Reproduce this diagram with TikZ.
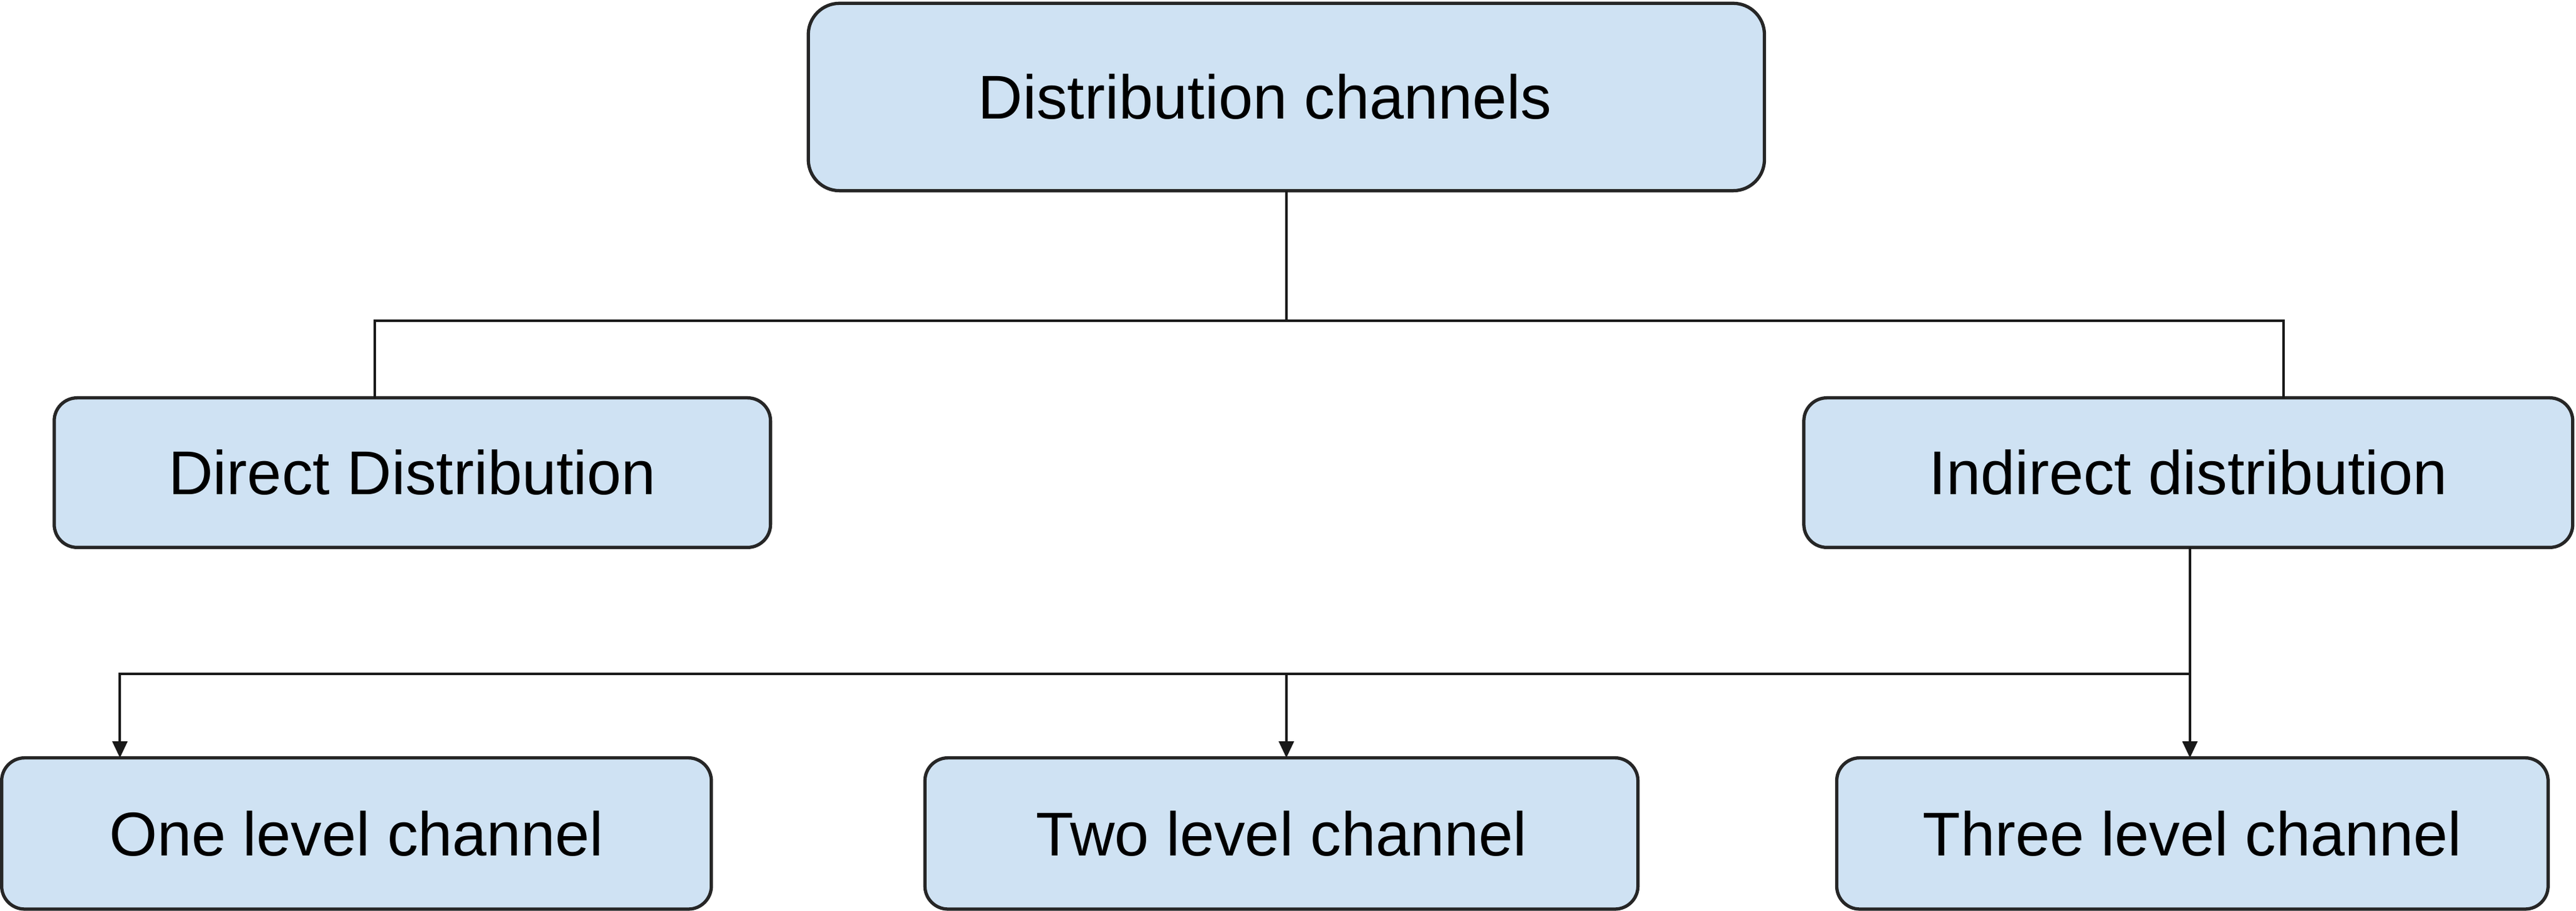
\documentclass[tikz,border=0pt]{standalone}
\usepackage{fontspec}
\setmainfont{Liberation Sans}
\usepackage{xcolor}
\usepackage{tikz}
\usetikzlibrary{positioning,arrows.meta}
\definecolor{boxfill}{HTML}{CFE2F3}

\begin{document}
\begin{tikzpicture}[x=0.5pt,y=-0.5pt,
channel/.style={rectangle,rounded corners=7pt,draw=black!85,fill=boxfill,line width=1pt,
inner sep=0pt,outer sep=0pt,minimum height=45.5pt,font=\fontsize{18.8}{22}\selectfont},
root/.style={channel,rounded corners=9.5pt,minimum width=291pt,minimum height=57pt},
link/.style={draw=black!90,line width=0.75pt},
feed/.style={link,-{Triangle[length=5pt,width=4.5pt]}}]
\useasboundingbox (0,0) rectangle (1568,554);
\node[root] (channels) at (783,59) {Distribution channels\hspace*{13pt}};
\node[channel,minimum width=218pt] (direct) at (251,287.5) {Direct Distribution};
\node[channel,minimum width=234pt] (indirect) at (1332,287.5) {Indirect distribution};
\node[channel,minimum width=216pt,minimum height=46pt] (one) at (217,507) {One level channel};
\node[channel,minimum width=217pt,minimum height=46pt] (two) [right=65pt of one] {Two level channel};
\node[channel,minimum width=216.5pt,minimum height=46pt] (three) [right=60.5pt of two] {Three level channel};
\coordinate (split) at (783,195);
\coordinate (branch) at (1333,410);
\draw [link] (channels.south) -- (split);
\draw [link] (split) -| ([xshift=-11.5pt]direct.north);
\draw [link] (split) -| ([xshift=29pt]indirect.north);
\draw [link] ([xshift=0.5pt]indirect.south) -- (branch);
\draw [feed] (branch) -| ([xshift=-72pt]one.north);
\draw [feed] (branch) -| ([xshift=1.5pt]two.north);
\draw [feed] (branch) -| ([xshift=-0.75pt]three.north);
\end{tikzpicture}
\end{document}
